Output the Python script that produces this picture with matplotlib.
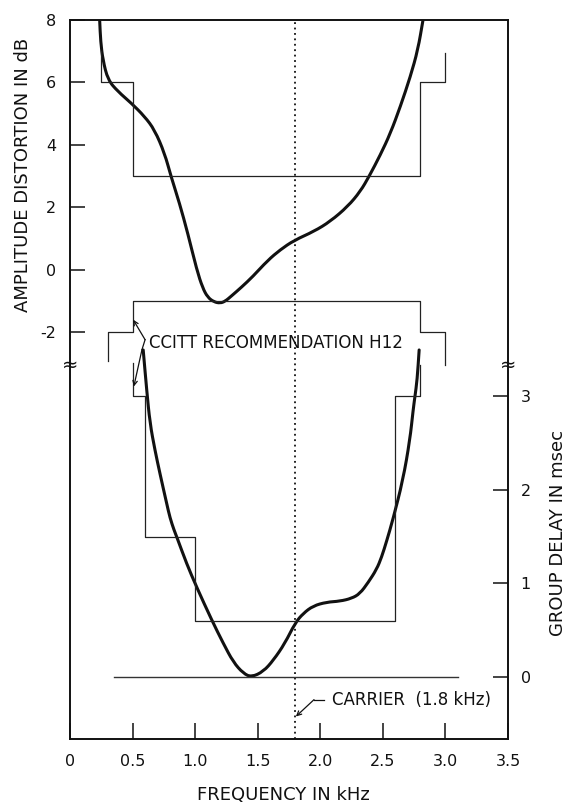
import matplotlib
matplotlib.use('Agg')
import matplotlib.pyplot as plt
from matplotlib.path import Path
from matplotlib.patches import PathPatch

# ---------------- data ----------------
amp_freq = [0.237, 0.245, 0.263, 0.303, 0.383, 0.489, 0.596, 0.676, 0.756,
            0.808, 0.875, 0.941, 1.013, 1.06, 1.10, 1.15, 1.20, 1.24, 1.29,
            1.37, 1.46, 1.58, 1.68, 1.79, 1.95, 2.08, 2.22, 2.32, 2.39,
            2.48, 2.56, 2.64, 2.72, 2.78, 2.82]
amp_db = [8.0, 7.3, 6.72, 6.08, 5.71, 5.34, 4.91, 4.48, 3.73,
          2.98, 2.13, 1.17, 0.0, -0.58, -0.88, -1.03, -1.07, -1.01, -0.84,
          -0.56, -0.22, 0.30, 0.64, 0.94, 1.23, 1.55, 2.03, 2.51, 2.99,
          3.68, 4.37, 5.23, 6.19, 7.05, 7.98]

gd_freq = [0.585, 0.613, 0.639, 0.679, 0.719, 0.773, 0.799, 0.831, 0.852,
           0.932, 1.012, 1.132, 1.225, 1.305, 1.385, 1.45, 1.545, 1.625,
           1.717, 1.80, 1.864, 1.943, 2.05, 2.157, 2.25, 2.316, 2.383,
           2.45, 2.49, 2.53, 2.58, 2.66, 2.716, 2.742, 2.756, 2.774, 2.79]
gd_ms = [3.49, 3.06, 2.71, 2.42, 2.17, 1.85, 1.70, 1.57, 1.50,
         1.21, 0.96, 0.61, 0.36, 0.16, 0.04, 0.0, 0.06, 0.18,
         0.36, 0.58, 0.68, 0.76, 0.80, 0.81, 0.84, 0.89, 1.01,
         1.15, 1.28, 1.45, 1.68, 2.10, 2.53, 2.85, 2.99, 3.17, 3.49]

amp_upper_freq = [0.25, 0.25, 0.5, 0.5, 2.8, 2.8, 3.0, 3.0]
amp_upper_db = [7.0, 6.0, 6.0, 3.0, 3.0, 6.0, 6.0, 6.93]
amp_lower_freq = [0.3, 0.3, 0.5, 0.5, 2.8, 2.8, 3.0, 3.0]
amp_lower_db = [-2.93, -2.0, -2.0, -1.0, -1.0, -2.0, -2.0, -3.04]

gd_mask_freq = [0.5, 0.5, 0.6, 0.6, 1.0, 1.0, 2.6, 2.6, 2.8, 2.8]
gd_mask_ms = [3.35, 3.0, 3.0, 1.5, 1.5, 0.6, 0.6, 3.0, 3.0, 3.33]

gd_zero_freq = [0.35, 3.1]
gd_zero_ms = [0.0, 0.0]

carrier_khz = 1.8

x_ticks = [0, 0.5, 1.0, 1.5, 2.0, 2.5, 3.0, 3.5]
x_tick_labels = ["0", "0.5", "1.0", "1.5", "2.0", "2.5", "3.0", "3.5"]
amp_ticks = [-2, 0, 2, 4, 6, 8]
amp_tick_labels = ["-2", "0", "2", "4", "6", "8"]
gd_ticks = [0, 1, 2, 3]
gd_tick_labels = ["0", "1", "2", "3"]


def smooth_curve(axis, xs, ys, **kw):
    """Draw a smooth curve through the read points (quadratic Bezier via midpoints)."""
    pts = list(zip(xs, ys))
    verts = [pts[0]]
    codes = [Path.MOVETO]
    mids = [((pts[i][0] + pts[i + 1][0]) / 2, (pts[i][1] + pts[i + 1][1]) / 2)
            for i in range(len(pts) - 1)]
    verts.append(mids[0])
    codes.append(Path.LINETO)
    for i in range(1, len(pts) - 1):
        verts += [pts[i], mids[i]]
        codes += [Path.CURVE3, Path.CURVE3]
    verts.append(pts[-1])
    codes.append(Path.LINETO)
    axis.add_patch(PathPatch(Path(verts, codes), fill=False, **kw))


# ---------------- figure ----------------
plt.rcParams['font.family'] = ['DejaVu Sans']
W, H = 570, 806
fig = plt.figure(figsize=(W / 100, H / 100), dpi=100)
ax = fig.add_axes([70 / W, 1 - 739 / H, 438 / W, 719 / H])
ax.set_xlim(0, 3.5)
ax.set_ylim(-15.03, 8.0)
ax2 = ax.twinx()
ax2.set_ylim(-0.66, 7.01)

ink = '#111111'
for a in (ax, ax2):
    for s in a.spines.values():
        s.set_linewidth(1.2)
        s.set_color(ink)

# masks (thin)
ax.plot(amp_upper_freq, amp_upper_db, color='#222222', lw=0.9)
ax.plot(amp_lower_freq, amp_lower_db, color='#222222', lw=0.9)
ax2.plot(gd_mask_freq, gd_mask_ms, color='#222222', lw=0.9)
ax2.plot(gd_zero_freq, gd_zero_ms, color='#333333', lw=1.0)

# curves (thick)
smooth_curve(ax, amp_freq, amp_db, edgecolor=ink, lw=2.2, capstyle='round',
             joinstyle='round')
smooth_curve(ax2, gd_freq, gd_ms, edgecolor=ink, lw=2.2, capstyle='round',
             joinstyle='round')

# carrier line
ax.axvline(carrier_khz, color=ink, lw=1.3, ls=(0, (1, 2)))

# ticks
ax.set_xticks(x_ticks)
ax.set_xticklabels(x_tick_labels)
ax.set_yticks(amp_ticks)
ax.set_yticklabels(amp_tick_labels)
ax2.set_yticks(gd_ticks)
ax2.set_yticklabels(gd_tick_labels)
ax.tick_params(axis='x', direction='in', length=11.5, width=1.1, pad=11,
               labelsize=11.5, top=False, colors=ink)
ax.tick_params(axis='y', direction='in', length=11, width=1.1, pad=10,
               labelsize=11.5, right=False, colors=ink)
ax2.tick_params(axis='y', direction='in', length=11, width=1.1, pad=9,
                labelsize=11.5, colors=ink)

# axis labels
fig.text(23 / W, 1 - 175 / H, 'AMPLITUDE DISTORTION IN dB', rotation=90,
         ha='center', va='center', fontsize=13, color=ink)
fig.text(558 / W, 1 - 533 / H, 'GROUP DELAY IN msec', rotation=90,
         ha='center', va='center', fontsize=13, color=ink)
fig.text(283 / W, 1 - 795 / H, 'FREQUENCY IN kHz',
         ha='center', va='center', fontsize=13, color=ink)

# break marks
brk_y = (739 - 365) / 719
ax.text(0, brk_y, '\u2248', transform=ax.transAxes, ha='center',
        va='center', fontsize=14, color=ink)
ax.text(1, brk_y, '\u2248', transform=ax.transAxes, ha='center',
        va='center', fontsize=14, color=ink)

# CCITT annotation
ax.text(0.63, -2.34, 'CCITT RECOMMENDATION H12', ha='left', va='center',
        fontsize=12, color=ink)
arrow_kw = dict(arrowstyle='->', lw=0.9, color=ink, shrinkA=0, shrinkB=0,
                mutation_scale=8)
ax.annotate('', xy=(0.505, -1.6), xytext=(0.60, -2.24), arrowprops=arrow_kw)
ax.plot([0.60, 0.575], [-2.24, -2.56], color=ink, lw=0.9)
ax2.annotate('', xy=(0.51, 3.10), xycoords='data', xytext=(0.575, -2.56),
             textcoords=ax.transData, arrowprops=arrow_kw)

# carrier annotation
ax2.text(2.09, -0.245, 'CARRIER  (1.8 kHz)', ha='left', va='center',
         fontsize=12, color=ink)
ax2.plot([1.95, 2.03], [-0.24, -0.24], color=ink, lw=0.9)
ax2.annotate('', xy=(1.805, -0.42), xytext=(1.95, -0.24), arrowprops=arrow_kw)

fig.savefig('out.png', dpi=100)
